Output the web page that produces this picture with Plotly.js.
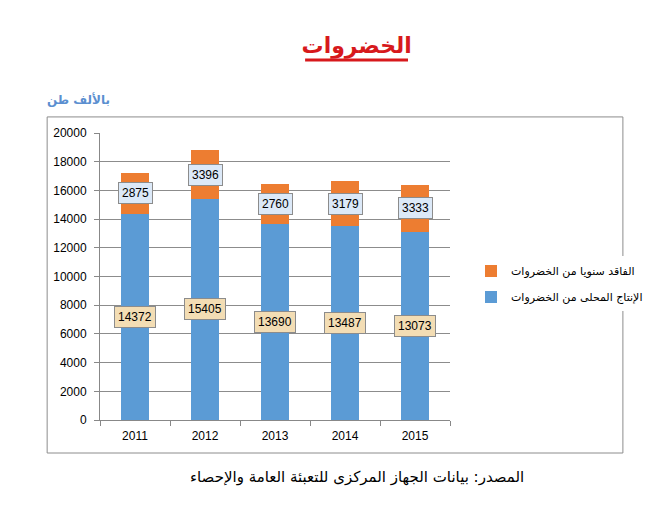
<!DOCTYPE html>
<html>
<head>
<meta charset="utf-8">
<script src="https://cdn.plot.ly/plotly-3.0.1.min.js"></script>
<style>body{margin:0;background:#fff}</style>
</head>
<body>
<div id="chart" style="width:668px;height:510px"></div>
<script>
var years = ['2011', '2012', '2013', '2014', '2015'];
var production = [14372, 15405, 13690, 13487, 13073];
var losses = [2875, 3396, 2760, 3179, 3333];
var nameProduction = 'الإنتاج المحلى من الخضروات';
var nameLosses = 'الفاقد سنويا من الخضروات';

var labelFont = {family: 'Liberation Sans, DejaVu Sans, sans-serif', size: 12, color: '#000'};

var annotations = [];
for (var i = 0; i < years.length; i++) {
    // category axis: use the index so the labels sit on the bars
    annotations.push({
        x: i, y: production[i] / 2, xref: 'x', yref: 'y',
        text: String(production[i]), showarrow: false, font: labelFont,
        bgcolor: '#f3ddb4', bordercolor: '#8c8c8c', borderwidth: 1, borderpad: 3
    });
    annotations.push({
        x: i, y: production[i] + losses[i] / 2, xref: 'x', yref: 'y',
        text: String(losses[i]), showarrow: false, font: labelFont,
        bgcolor: '#dce9f8', bordercolor: '#8c8c8c', borderwidth: 1, borderpad: 3
    });
}

// unit label and source line
annotations.push({
    xref: 'paper', yref: 'paper', x: -0.157, y: 1.085, xanchor: 'left', yanchor: 'bottom',
    text: '<b>بالألف طن</b>', showarrow: false,
    font: {family: 'DejaVu Sans, sans-serif', size: 12, color: '#5b8fd0'}
});
annotations.push({
    xref: 'paper', yref: 'paper', x: 0.735, y: -0.2, xanchor: 'center', yanchor: 'middle',
    text: 'المصدر: بيانات الجهاز المركزى للتعبئة العامة والإحصاء', showarrow: false,
    font: {family: 'DejaVu Sans, sans-serif', size: 15, color: '#000'}
});

Plotly.newPlot('chart', [{
    x: years, y: production, name: nameProduction, type: 'bar',
    legendgroup: 'p', legendrank: 2,
    marker: {color: '#5b9bd5'}, hoverinfo: 'y'
}, {
    x: years, y: losses, name: nameLosses, type: 'bar',
    legendgroup: 'l', legendrank: 1,
    marker: {color: '#ed7d31'}, hoverinfo: 'y'
}], {
    width: 668, height: 510,
    barmode: 'stack', bargap: 0.6,
    margin: {l: 100, r: 218, t: 133, b: 90},
    paper_bgcolor: '#fff', plot_bgcolor: '#fff',
    font: {family: 'Liberation Sans, DejaVu Sans, sans-serif', size: 12, color: '#000'},
    title: {
        text: '<b>الخضروات</b>', x: 0.534, xanchor: 'center',
        yref: 'container', y: 0.912, yanchor: 'middle',
        font: {family: 'DejaVu Sans, sans-serif', size: 22, color: '#d7191c'}
    },
    xaxis: {
        type: 'category', showgrid: false, zeroline: false,
        showline: true, linecolor: '#888', linewidth: 1,
        ticks: 'outside', tickson: 'boundaries', ticklen: 5, tickcolor: '#888',
        tickfont: {size: 12}, tickangle: 0, ticklabelstandoff: 5
    },
    yaxis: {
        range: [0, 20000], dtick: 2000, tickformat: 'd', showgrid: true, gridcolor: '#8c8c8c',
        zeroline: false, showline: true, linecolor: '#888', linewidth: 1,
        ticks: 'outside', ticklen: 5, tickcolor: '#888',
        tickfont: {size: 12}, ticklabelstandoff: 5
    },
    showlegend: true,
    legend: {
        x: 1.06, y: 0.57, xanchor: 'left', yanchor: 'top',
        traceorder: 'grouped', font: {family: 'DejaVu Sans, sans-serif', size: 11},
        itemwidth: 30, tracegroupgap: 7
    },
    annotations: annotations,
    shapes: [{
        type: 'rect', xref: 'paper', yref: 'paper',
        x0: -0.151, x1: 1.494, y0: -0.115, y1: 1.056,
        line: {color: '#8c8c8c', width: 1}
    }, {
        type: 'line', xref: 'paper', yref: 'paper',
        x0: 0.586, x1: 0.88, y0: 1.254, y1: 1.254,
        line: {color: '#d7191c', width: 3}
    }]
}, {displayModeBar: false, staticPlot: true});
</script>
</body>
</html>
